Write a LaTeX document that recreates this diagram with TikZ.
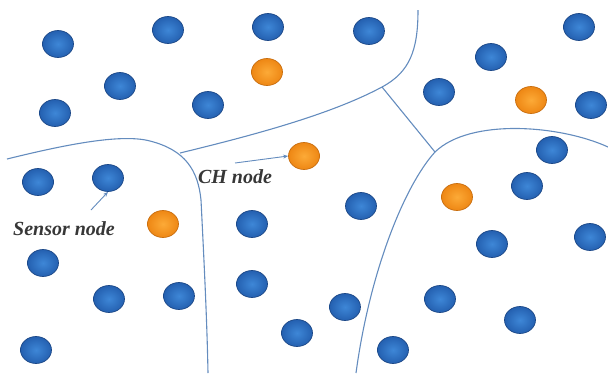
\documentclass[tikz,border=0pt]{standalone}
\usepackage{fontspec}
\setmainfont{Liberation Serif}
\usetikzlibrary{shapes.geometric,arrows.meta}
\definecolor{bluein}{RGB}{62,135,215}
\definecolor{blueout}{RGB}{36,96,176}
\definecolor{blueedge}{RGB}{28,72,135}
\definecolor{orin}{RGB}{252,170,55}
\definecolor{orout}{RGB}{238,135,20}
\definecolor{oredge}{RGB}{200,110,15}
\definecolor{bline}{RGB}{100,140,190}
\definecolor{txt}{RGB}{55,55,55}
\tikzset{
  sensor/.style={ellipse, minimum width=31pt, minimum height=27pt, inner sep=0pt,
    draw=blueedge, line width=0.7pt, inner color=bluein, outer color=blueout},
  head/.style={ellipse, minimum width=31pt, minimum height=27pt, inner sep=0pt,
    draw=oredge, line width=0.7pt, inner color=orin, outer color=orout},
  border/.style={draw=bline, line width=1.1pt},
  label/.style={font=\fontsize{20}{24}\selectfont\bfseries\itshape, text=txt, inner sep=0pt},
  pointer/.style={draw=bline, line width=0.9pt, -{Stealth[length=5pt,width=4pt]}}
}
\begin{document}
\begin{tikzpicture}[x=1pt,y=-1pt]
\useasboundingbox (0,0) rectangle (608,373);
% region borders
\draw[border] (7,159) .. controls (60,146) and (120,133) .. (150,141)
  .. controls (185,150) and (198,170) .. (201,200)
  .. controls (204,260) and (207,320) .. (208,373);
\draw[border] (180,153) .. controls (250,136) and (330,115) .. (382,87)
  .. controls (410,72) and (418,50) .. (418,10);
\draw[border] (382,87) -- (435,152);
\draw[border] (608,147) .. controls (560,125) and (470,118) .. (435,152)
  .. controls (405,185) and (370,270) .. (356,373);
% sensor nodes
\foreach \n/\x/\y in {s1/58/44, s2/168/30, s3/268/27, s4/369/31, s5/120/86,
  s6/55/113, s7/208/105, s8/491/57, s9/579/27, s10/439/92, s11/591/105,
  s12/552/150, s13/38/182, s14/108/178, s15/527/186, s16/361/206,
  s17/252/224, s18/43/263, s19/492/244, s20/590/237, s21/109/299,
  s22/179/296, s23/252/284, s24/345/307, s25/440/299, s26/520/320,
  s27/297/333, s28/393/350, s29/36/350}
  \node[sensor] (\n) at (\x,\y) {};
% cluster heads
\foreach \n/\x/\y in {c1/267/72, c2/531/100, c3/304/156, c4/163/224, c5/457/197}
  \node[head] (\n) at (\x,\y) {};
% labels
\node[label] (sl) at (64,229) {Sensor node};
\node[label] (cl) at (235,177) {CH node};
\coordinate (sa) at (91,210);
\coordinate (ca) at (235,163);
\draw[pointer] (sa) -- (s14.south);
\draw[pointer] (ca) -- (c3.west);
\end{tikzpicture}
\end{document}
